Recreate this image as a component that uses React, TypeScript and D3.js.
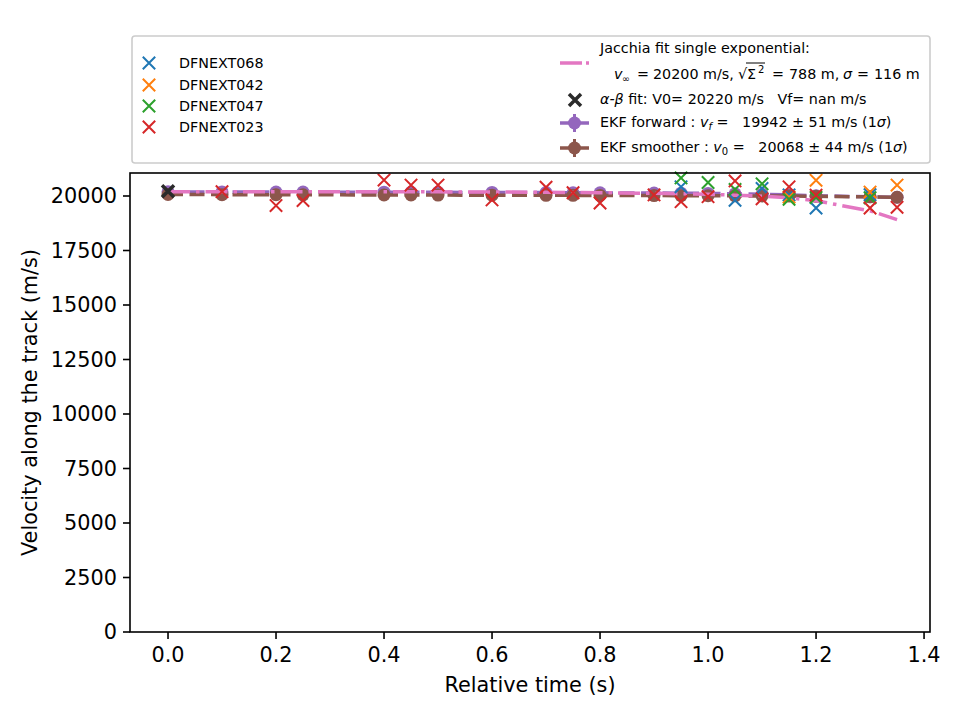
import React, { useEffect, useRef } from "react";
import * as d3 from "d3";

// EKF / fit evaluation times (s)
const TIMES = [0, 0.1, 0.2, 0.25, 0.4, 0.45, 0.5, 0.6, 0.7, 0.75, 0.8, 0.9, 0.95, 1.0, 1.05, 1.1, 1.15, 1.2, 1.3, 1.35];
const EKF_FORWARD = [20190, 20186, 20182, 20180, 20174, 20171, 20168, 20162, 20155, 20150, 20145, 20135, 20128, 20118, 20100, 20080, 20050, 20010, 19965, 19942];
const EKF_SMOOTHER = [20068, 20063, 20058, 20055, 20048, 20045, 20042, 20037, 20032, 20029, 20026, 20020, 20016, 20012, 20008, 20003, 19996, 19985, 19960, 19942];
const JACCHIA = [20200, 20200, 20199, 20198, 20195, 20193, 20190, 20184, 20172, 20163, 20152, 20122, 20102, 20076, 20040, 19990, 19920, 19780, 19320, 18920];

const ALPHA_BETA_T = [0];
const ALPHA_BETA_V = [20220];

const STATIONS = ["DFNEXT068", "DFNEXT042", "DFNEXT047", "DFNEXT023"];
const STATION_COLORS = ["#1f77b4", "#ff7f0e", "#2ca02c", "#d62728"];

const DFNEXT068_T = [0.95, 1.05, 1.1, 1.15, 1.2, 1.3];
const DFNEXT068_V = [20420, 19800, 20350, 20050, 19450, 20060];
const DFNEXT042_T = [1.15, 1.2, 1.3, 1.35];
const DFNEXT042_V = [19950, 20720, 20180, 20500];
const DFNEXT047_T = [0.95, 1.0, 1.05, 1.1, 1.15, 1.2, 1.3];
const DFNEXT047_V = [20830, 20620, 20300, 20560, 19850, 19930, 19920];
const DFNEXT023_T = [0.1, 0.2, 0.25, 0.4, 0.45, 0.5, 0.6, 0.7, 0.75, 0.8, 0.9, 0.95, 1.0, 1.05, 1.1, 1.15, 1.2, 1.3, 1.35];
const DFNEXT023_V = [20200, 19560, 19790, 20730, 20500, 20500, 19820, 20400, 20150, 19680, 20050, 19740, 19970, 20690, 19870, 20420, 20040, 19450, 19480];

const X_TICKS = [0, 0.2, 0.4, 0.6, 0.8, 1.0, 1.2, 1.4];
const Y_TICKS = [0, 2500, 5000, 7500, 10000, 12500, 15000, 17500, 20000];

const FONT = "DejaVu Sans, Verdana, sans-serif";
const NB = "\u00A0";

const xMark = (h: number) => `M${-h},${-h}L${h},${h}M${-h},${h}L${h},${-h}`;

export default function App() {
  const svgRef = useRef<SVGSVGElement>(null);

  useEffect(() => {
    if (!svgRef.current) return;
    const svg = d3.select(svgRef.current);
    svg.selectAll("*").remove();

    const left = 130, right = 930, top = 173, bottom = 632;
    const x = d3.scaleLinear().domain([-0.0704, 1.411]).range([left, right]);
    const y = d3.scaleLinear().domain([0, 21055]).range([bottom, top]);

    svg.append("rect").attr("width", 960).attr("height", 720).attr("fill", "white");

    const defs = svg.append("defs");
    defs.append("clipPath").attr("id", "plotclip")
      .append("rect").attr("x", left).attr("y", top).attr("width", right - left).attr("height", bottom - top);

    const plot = svg.append("g");

    // EKF forward / smoother: dashed line + circles
    const ekf = [
      { vals: EKF_FORWARD, color: "#9467bd" },
      { vals: EKF_SMOOTHER, color: "#8c564b" },
    ];
    ekf.forEach(s => {
      const line = d3.line<number>().x((_, i) => x(TIMES[i])).y(d => y(d));
      plot.append("path")
        .attr("d", line(s.vals))
        .attr("fill", "none")
        .attr("stroke", s.color)
        .attr("stroke-width", 3.5)
        .attr("stroke-dasharray", "15,6.5")
        .attr("clip-path", "url(#plotclip)");
      plot.append("g").selectAll("circle")
        .data(s.vals)
        .enter()
        .append("circle")
        .attr("cx", (_, i) => x(TIMES[i]))
        .attr("cy", d => y(d))
        .attr("r", 6.5)
        .attr("fill", s.color);
    });

    // Jacchia fit
    const jline = d3.line<number>().x((_, i) => x(TIMES[i])).y(d => y(d));
    plot.append("path")
      .attr("d", jline(JACCHIA))
      .attr("fill", "none")
      .attr("stroke", "#e377c2")
      .attr("stroke-width", 3.5)
      .attr("stroke-dasharray", "22,6,3.5,6")
      .attr("clip-path", "url(#plotclip)");

    // Station observations
    const stations = [
      { t: DFNEXT068_T, v: DFNEXT068_V },
      { t: DFNEXT042_T, v: DFNEXT042_V },
      { t: DFNEXT047_T, v: DFNEXT047_V },
      { t: DFNEXT023_T, v: DFNEXT023_V },
    ];
    stations.forEach((s, k) => {
      plot.append("g").selectAll("path")
        .data(s.v)
        .enter()
        .append("path")
        .attr("d", xMark(6.2))
        .attr("transform", (d, i) => `translate(${x(s.t[i])},${y(d)})`)
        .attr("stroke", STATION_COLORS[k])
        .attr("stroke-width", 2)
        .attr("fill", "none");
    });

    // alpha-beta fit
    plot.append("g").selectAll("path")
      .data(ALPHA_BETA_V)
      .enter()
      .append("path")
      .attr("d", xMark(6))
      .attr("transform", (d, i) => `translate(${x(ALPHA_BETA_T[i])},${y(d)})`)
      .attr("stroke", "#2b2b2b")
      .attr("stroke-width", 3.5)
      .attr("fill", "none");

    // Axes frame
    svg.append("rect")
      .attr("x", left).attr("y", top)
      .attr("width", right - left).attr("height", bottom - top)
      .attr("fill", "none").attr("stroke", "black").attr("stroke-width", 1.6);

    const xAxis = svg.append("g");
    X_TICKS.forEach(t => {
      xAxis.append("line").attr("x1", x(t)).attr("x2", x(t)).attr("y1", bottom).attr("y2", bottom + 7)
        .attr("stroke", "black").attr("stroke-width", 1.6);
      xAxis.append("text").attr("x", x(t)).attr("y", bottom + 30)
        .attr("text-anchor", "middle").attr("font-family", FONT).attr("font-size", 20.8)
        .text(d3.format(".1f")(t));
    });
    const yAxis = svg.append("g");
    Y_TICKS.forEach(t => {
      yAxis.append("line").attr("x1", left - 7).attr("x2", left).attr("y1", y(t)).attr("y2", y(t))
        .attr("stroke", "black").attr("stroke-width", 1.6);
      yAxis.append("text").attr("x", left - 13).attr("y", y(t)).attr("dy", "0.36em")
        .attr("text-anchor", "end").attr("font-family", FONT).attr("font-size", 20.8)
        .text(String(t));
    });

    svg.append("text").attr("x", (left + right) / 2).attr("y", 692)
      .attr("text-anchor", "middle").attr("font-family", FONT).attr("font-size", 20.8)
      .text("Relative time (s)");
    svg.append("text")
      .attr("transform", `translate(37,${(top + bottom) / 2}) rotate(-90)`)
      .attr("text-anchor", "middle").attr("font-family", FONT).attr("font-size", 20.8)
      .text("Velocity along the track (m/s)");

    // Legend
    const lg = svg.append("g").attr("font-family", FONT).attr("font-size", 14.3);
    lg.append("rect").attr("x", 132).attr("y", 36).attr("width", 798).attr("height", 127)
      .attr("rx", 3).attr("fill", "white").attr("stroke", "#cccccc").attr("stroke-width", 1.6);

    const leftRows = [63, 85, 106, 127];
    STATIONS.forEach((name, k) => {
      lg.append("path").attr("d", xMark(6.2))
        .attr("transform", `translate(149,${leftRows[k]})`)
        .attr("stroke", STATION_COLORS[k]).attr("stroke-width", 2).attr("fill", "none");
      lg.append("text").attr("x", 179).attr("y", leftRows[k]).attr("dy", "0.36em").text(name);
    });

    // Jacchia entry
    lg.append("line").attr("x1", 560).attr("x2", 589).attr("y1", 63).attr("y2", 63)
      .attr("stroke", "#e377c2").attr("stroke-width", 3.5).attr("stroke-dasharray", "22,4,3.5,6");
    lg.append("text").attr("x", 600).attr("y", 48).attr("dy", "0.36em").text("Jacchia fit single exponential:");
    const j2 = lg.append("text").attr("y", 74).attr("dy", "0.36em");
    j2.append("tspan").attr("x", 614).attr("font-style", "italic").text("v");
    j2.append("tspan").attr("x", 622).attr("font-size", 9.5).attr("dy", 3).text("∞");
    j2.append("tspan").attr("x", 637).attr("dy", -3).text("=");
    j2.append("tspan").attr("x", 653).text("20200 m/s,");
    j2.append("tspan").attr("x", 738).text("√");
    j2.append("tspan").attr("x", 747).text("Σ");
    j2.append("tspan").attr("x", 758).attr("font-size", 10).attr("dy", -6).text("2");
    j2.append("tspan").attr("x", 772).attr("dy", 6).text("=");
    j2.append("tspan").attr("x", 789).text("788 m,");
    j2.append("tspan").attr("x", 843).attr("font-style", "italic").text("σ");
    j2.append("tspan").attr("x", 857).text("=");
    j2.append("tspan").attr("x", 874).text("116 m");
    // overline of the square root
    lg.append("line").attr("x1", 746).attr("x2", 765).attr("y1", 63).attr("y2", 63)
      .attr("stroke", "black").attr("stroke-width", 1);

    // alpha-beta entry
    lg.append("path").attr("d", xMark(6)).attr("transform", "translate(575,100)")
      .attr("stroke", "#2b2b2b").attr("stroke-width", 3.5).attr("fill", "none");
    const ab = lg.append("text").attr("x", 600).attr("y", 99).attr("dy", "0.36em");
    ab.append("tspan").attr("font-style", "italic").text("α-β");
    ab.append("tspan").text(` fit: V0= 20220 m/s${NB}${NB} Vf= nan m/s`);

    // EKF entries
    const ekfRows = [
      { yy: 123, color: "#9467bd", sub: "f", subItalic: true, val: "19942 ± 51", name: "EKF forward : " },
      { yy: 148, color: "#8c564b", sub: "0", subItalic: false, val: "20068 ± 44", name: "EKF smoother : " },
    ];
    ekfRows.forEach(r => {
      lg.append("line").attr("x1", 560).attr("x2", 589).attr("y1", r.yy).attr("y2", r.yy)
        .attr("stroke", r.color).attr("stroke-width", 3.5);
      lg.append("line").attr("x1", 574.5).attr("x2", 574.5).attr("y1", r.yy - 9).attr("y2", r.yy + 9)
        .attr("stroke", r.color).attr("stroke-width", 3);
      lg.append("circle").attr("cx", 574.5).attr("cy", r.yy).attr("r", 6.5).attr("fill", r.color);
      const t = lg.append("text").attr("x", 600).attr("y", r.yy - 1).attr("dy", "0.36em");
      t.append("tspan").text(r.name);
      t.append("tspan").attr("font-style", "italic").text("v");
      t.append("tspan").attr("font-size", 10).attr("dy", 3)
        .attr("font-style", r.subItalic ? "italic" : "normal").text(r.sub);
      t.append("tspan").attr("dy", -3).text(`${NB}=${NB}${NB}${NB}${r.val} m/s (1`);
      t.append("tspan").attr("font-style", "italic").text("σ");
      t.append("tspan").text(")");
    });
  }, []);

  return (
    <svg
      ref={svgRef}
      width={960}
      height={720}
      style={{ position: "absolute", left: 0, top: 0 }}
    />
  );
}
